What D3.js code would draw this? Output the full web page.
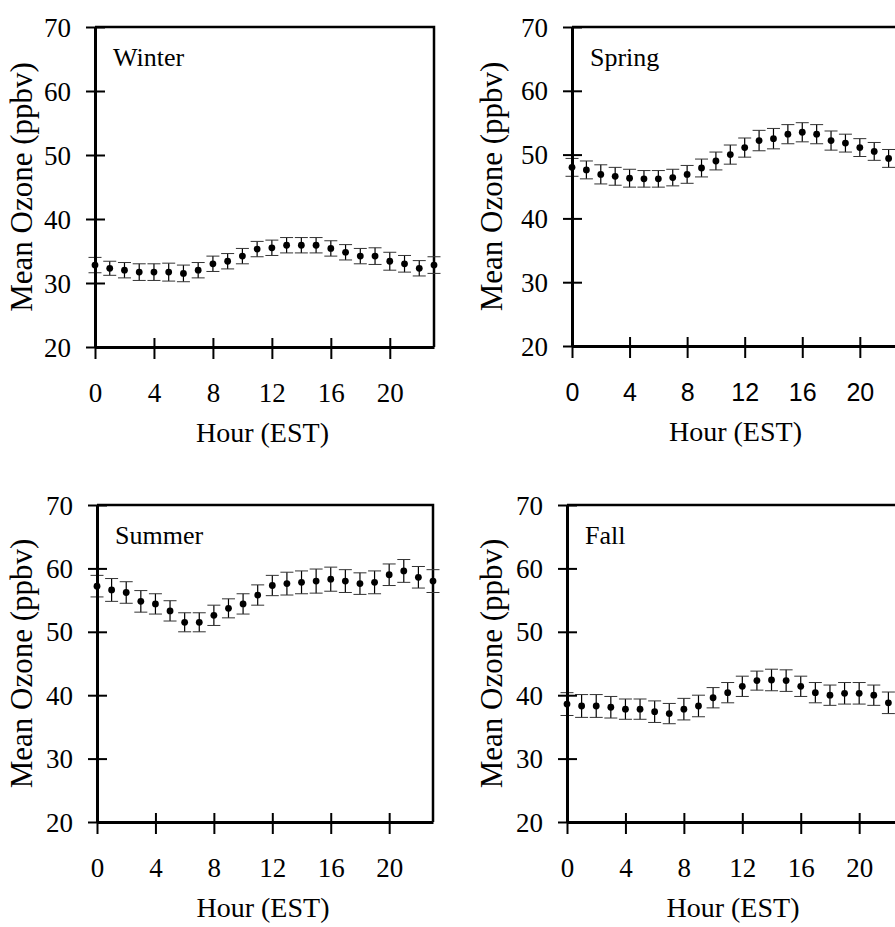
<!DOCTYPE html>
<html>
<head>
<meta charset="utf-8">
<script src="https://cdn.jsdelivr.net/npm/d3@7"></script>
<style>
  body { margin: 0; background: #fff; }
  svg { display: block; }
  .axis path, .axis line { stroke: #000; }
</style>
</head>
<body>
<div id="chart"></div>
<script>
// hourly mean ozone by season
var hours = d3.range(0, 24);
var hourTicks = [0, 4, 8, 12, 16, 20];
var ozoneTicks = [20, 30, 40, 50, 60, 70];

var winterMean = [32.8, 32.3, 32.0, 31.7, 31.7, 31.7, 31.5, 32.0, 33.0, 33.4, 34.2, 35.3,
                  35.5, 35.9, 35.9, 35.9, 35.4, 34.8, 34.2, 34.2, 33.4, 33.0, 32.3, 32.8];
var winterErr  = [1.2, 1.1, 1.2, 1.3, 1.3, 1.4, 1.3, 1.2, 1.2, 1.2, 1.2, 1.2,
                  1.2, 1.2, 1.2, 1.2, 1.2, 1.2, 1.2, 1.3, 1.4, 1.3, 1.2, 1.3];

var springMean = [48.0, 47.6, 46.9, 46.6, 46.3, 46.2, 46.2, 46.4, 46.9, 47.9, 49.0, 50.0,
                  51.1, 52.2, 52.5, 53.2, 53.5, 53.2, 52.2, 51.8, 51.1, 50.5, 49.4, 48.6];
var springErr  = [1.4, 1.4, 1.5, 1.4, 1.4, 1.3, 1.3, 1.3, 1.4, 1.4, 1.4, 1.5,
                  1.5, 1.6, 1.6, 1.5, 1.5, 1.5, 1.5, 1.4, 1.4, 1.4, 1.4, 1.4];

var summerMean = [57.2, 56.6, 56.2, 54.8, 54.4, 53.3, 51.5, 51.5, 52.6, 53.7, 54.4, 55.8,
                  57.3, 57.6, 57.8, 58.0, 58.3, 58.0, 57.6, 57.8, 59.0, 59.6, 58.6, 58.0];
var summerErr  = [1.7, 1.8, 1.7, 1.7, 1.6, 1.6, 1.5, 1.5, 1.6, 1.5, 1.6, 1.6,
                  1.6, 1.8, 1.8, 1.9, 1.9, 1.8, 1.7, 1.8, 1.7, 1.8, 1.7, 1.8];

var fallMean = [38.6, 38.3, 38.3, 38.1, 37.8, 37.8, 37.4, 37.1, 37.8, 38.3, 39.6, 40.4,
                41.4, 42.3, 42.4, 42.3, 41.4, 40.4, 40.0, 40.3, 40.3, 40.0, 38.8, 38.6];
var fallErr  = [1.8, 1.8, 1.8, 1.7, 1.6, 1.6, 1.7, 1.6, 1.7, 1.7, 1.6, 1.6,
                1.6, 1.5, 1.7, 1.7, 1.6, 1.6, 1.6, 1.7, 1.7, 1.6, 1.7, 1.7];

(function(d3) {
  'use strict';

  var width = 895;
  var height = 927;
  var serif = '"Liberation Serif", "Times New Roman", serif';
  var sans = '"Liberation Sans", Arial, sans-serif';

  // panel boxes in page pixels
  var panels = [
    { name: 'Winter', mean: winterMean, err: winterErr, left: 95, right: 434, top: 27, bottom: 347, titleOff: 63, tickFont: serif },
    { name: 'Spring', mean: springMean, err: springErr, left: 572, right: 903, top: 27, bottom: 346, titleOff: 70, tickFont: sans },
    { name: 'Summer', mean: summerMean, err: summerErr, left: 97, right: 433, top: 505, bottom: 822, titleOff: 65, tickFont: serif },
    { name: 'Fall', mean: fallMean, err: fallErr, left: 567, right: 903, top: 505, bottom: 822, titleOff: 65, tickFont: serif }
  ];

  var svg = d3.select('#chart')
    .append('svg')
    .attr('width', width)
    .attr('height', height);

  panels.forEach(function(p) {
    var x = d3.scaleLinear().domain([0, 23]).range([p.left, p.right]);
    var y = d3.scaleLinear().domain([20, 70]).range([p.bottom, p.top]);

    var g = svg.append('g');

    // box top and right
    g.append('path')
      .attr('d', 'M' + p.left + ',' + p.top + 'H' + p.right + 'V' + p.bottom)
      .attr('fill', 'none')
      .attr('stroke', '#000')
      .attr('stroke-width', 2.5);

    // error bars
    var bars = g.selectAll('.bar')
      .data(hours)
      .enter()
      .append('g')
      .attr('class', 'bar');

    bars.append('line')
      .attr('x1', function(h) { return x(h); })
      .attr('x2', function(h) { return x(h); })
      .attr('y1', function(h) { return y(p.mean[h] - p.err[h]); })
      .attr('y2', function(h) { return y(p.mean[h] + p.err[h]); })
      .attr('stroke', '#000')
      .attr('stroke-width', 1.2);

    [-1, 1].forEach(function(s) {
      bars.append('line')
        .attr('x1', function(h) { return x(h) - 6.5; })
        .attr('x2', function(h) { return x(h) + 6.5; })
        .attr('y1', function(h) { return y(p.mean[h] + s * p.err[h]); })
        .attr('y2', function(h) { return y(p.mean[h] + s * p.err[h]); })
        .attr('stroke', '#333')
        .attr('stroke-width', 1);
    });

    bars.append('circle')
      .attr('cx', function(h) { return x(h); })
      .attr('cy', function(h) { return y(p.mean[h]); })
      .attr('r', 3.4)
      .attr('fill', '#000');

    // y axis
    var yAxis = g.append('g')
      .attr('class', 'axis')
      .attr('transform', 'translate(' + p.left + ',0)')
      .call(d3.axisLeft(y).tickValues(ozoneTicks).tickSize(9).tickSizeOuter(0).tickPadding(15));
    yAxis.select('.domain').attr('stroke-width', 3);
    yAxis.selectAll('.tick line').attr('x2', 10).attr('x1', -9).attr('stroke-width', 2);
    yAxis.selectAll('.tick text')
      .attr('dy', '0.34em')
      .style('font-family', serif)
      .style('font-size', '27px')
      .attr('fill', '#000');

    // x axis
    var xAxis = g.append('g')
      .attr('class', 'axis')
      .attr('transform', 'translate(0,' + p.bottom + ')')
      .call(d3.axisBottom(x).tickValues(hourTicks).tickSize(12).tickSizeOuter(0));
    xAxis.select('.domain').attr('stroke-width', 3);
    xAxis.selectAll('.tick line').attr('y1', -9).attr('y2', 12).attr('stroke-width', 2);
    xAxis.selectAll('.tick text')
      .attr('y', 55)
      .attr('dy', 0)
      .style('font-family', p.tickFont)
      .style('font-size', p.tickFont === sans ? '25px' : '27px')
      .attr('fill', '#000');

    // titles
    g.append('text')
      .attr('x', (p.left + p.right) / 2 - 2)
      .attr('y', p.bottom + 95)
      .attr('text-anchor', 'middle')
      .style('font-family', serif)
      .style('font-size', '28px')
      .text('Hour (EST)');

    g.append('text')
      .attr('transform', 'translate(' + (p.left - p.titleOff) + ',' + ((p.top + p.bottom) / 2) + ') rotate(-90)')
      .attr('text-anchor', 'middle')
      .style('font-family', serif)
      .style('font-size', '31px')
      .text('Mean Ozone (ppbv)');

    g.append('text')
      .attr('x', p.left + 18)
      .attr('y', p.top + 39)
      .style('font-family', serif)
      .style('font-size', '26px')
      .text(p.name);
  });

})(window.d3);
</script>
</body>
</html>
